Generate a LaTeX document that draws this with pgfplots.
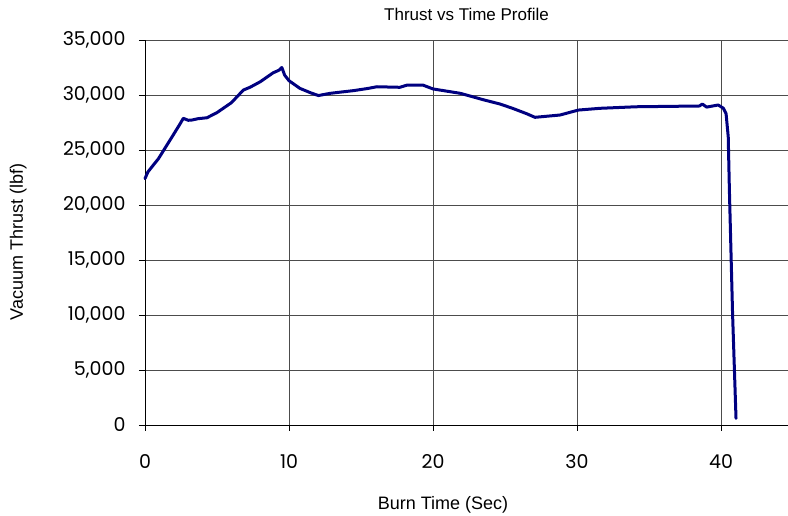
\documentclass[border=0pt]{standalone}
\usepackage{pgfplots}
\pgfplotsset{compat=1.18}
\usepackage{fontspec}
\setmainfont{Liberation Sans}
\newfontfamily\tickfont{Poppins}
\definecolor{navyline}{RGB}{0,0,128}
\pgfplotstableread{
t thrust
0 22400
0.2 23000
0.5 23500
0.93 24200
1.5 25400
2.0 26450
2.4 27300
2.66 27880
3.0 27700
3.24 27720
3.7 27850
4.3 27930
5.0 28400
6.0 29300
6.83 30450
7.29 30700
8.0 31200
8.9 32020
9.3 32250
9.5 32500
9.7 31800
10.0 31300
10.76 30600
11.5 30200
12.04 29950
12.85 30150
13.5 30250
14.5 30400
15.5 30600
16.1 30750
17.7 30700
18.2 30900
19.3 30900
20.0 30550
21.9 30150
23.0 29750
23.4 29600
24.65 29180
25.5 28800
26.5 28300
27.08 27970
28.82 28180
30.09 28630
31.6 28790
34.1 28930
38.5 29000
38.7 29180
39.0 28900
39.8 29090
40.16 28800
40.35 28300
40.5 26200
40.58 21360
40.8 10150
41.04 600
}\thrustdata
\begin{document}
\begin{tikzpicture}[x=1pt,y=1pt]
\useasboundingbox (0,0) rectangle (788,516);
\begin{axis}[
  at={(145pt,91pt)}, anchor=south west,
  scale only axis,
  width=643pt, height=385pt,
  xmin=0, xmax=44.65,
  ymin=0, ymax=35000,
  xtick={0,10,20,30,40},
  ytick={0,5000,...,35000},
  grid=major,
  grid style={black!70, line width=0.8pt},
  axis x line*=bottom,
  axis y line*=left,
  axis line style={black, line width=0.9pt, -},
  tick style={black, line width=0.8pt},
  tick align=outside,
  major tick length=6pt,
  xticklabel style={font=\tickfont\fontsize{19}{19}\selectfont, yshift=-20pt},
  yticklabel style={font=\tickfont\fontsize{19}{19}\selectfont, xshift=-10pt},
  /pgf/number format/assume math mode=true,
  /pgf/number format/1000 sep={,},
  scaled y ticks=false,
  clip=false,
  title={Thrust vs Time Profile},
  title style={font=\fontsize{17}{17}\selectfont, at={(0.5,1)}, anchor=base, yshift=13pt},
  xlabel={Burn Time (Sec)},
  xlabel style={font=\fontsize{18}{18}\selectfont, at={(298pt,-85pt)}, anchor=base},
  ylabel={Vacuum Thrust (lbf)},
  ylabel style={font=\fontsize{18}{18}\selectfont, at={(-122pt,183pt)}, anchor=base},
]
\addplot[navyline, line width=3pt, line join=round, line cap=round] table[x=t, y=thrust] {\thrustdata};
\end{axis}
\end{tikzpicture}
\end{document}
